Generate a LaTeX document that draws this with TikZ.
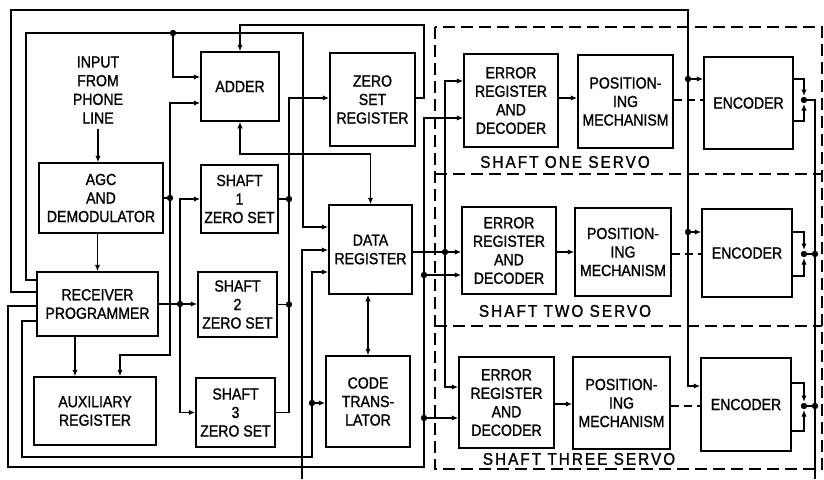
\documentclass[tikz,border=0pt]{standalone}
\usepackage{fontspec}
\setmainfont{Liberation Sans}
\newfontfamily\boxfont[FakeStretch=0.88,FakeBold=1.2]{Liberation Sans}
\newfontfamily\labfont[FakeStretch=0.9,LetterSpace=12,FakeBold=1.2]{Liberation Sans}
\usetikzlibrary{arrows.meta}
\newcommand\jdot[1]{\fill #1 circle (3.2pt);}
\begin{document}
\begin{tikzpicture}[x=1pt,y=-1pt,
  box/.style={draw, line width=1.5pt, align=center, font=\boxfont\fontsize{16}{18.5}\selectfont, inner sep=0pt},
  txt/.style={align=center, font=\boxfont\fontsize{16}{18.7}\selectfont, inner sep=0pt},
  wire/.style={line width=1.35pt},
  arr/.style={-{Latex[length=6.5pt,width=5.5pt]}},
  biarr/.style={{Latex[length=6.5pt,width=5.5pt]}-{Latex[length=6.5pt,width=5.5pt]}},
  mech/.style={line width=1.4pt, dash pattern=on 8pt off 5pt},
  frame/.style={line width=1.5pt, dash pattern=on 12pt off 6pt},
  lab/.style={font=\labfont\fontsize{17}{20}\selectfont, inner sep=0pt}]
\useasboundingbox (0,0) rectangle (824,479);

% ---------- boxes ----------
\node[box, minimum width=78pt, minimum height=69pt] (adder) at (240,86.5) {ADDER};
\node[box, minimum width=77pt, minimum height=68pt] (s1) at (239.5,199) {SHAFT\\1\\ZERO SET};
\node[box, minimum width=79pt, minimum height=65pt] (s2) at (237.5,304.5) {SHAFT\\2\\ZERO SET};
\node[box, minimum width=79pt, minimum height=69pt] (s3) at (235.5,412.5) {SHAFT\\3\\ZERO SET};
\node[box, minimum width=124pt, minimum height=70pt] (agc) at (101,198) {AGC\\AND\\DEMODULATOR};
\node[box, minimum width=121pt, minimum height=64pt] (rec) at (97.5,304) {RECEIVER\\PROGRAMMER};
\node[box, minimum width=122pt, minimum height=68pt] (aux) at (95,411) {AUXILIARY\\REGISTER};
\node[box, minimum width=85pt, minimum height=93pt] (zsr) at (372.5,99.5) {ZERO\\SET\\REGISTER};
\node[box, minimum width=83pt, minimum height=89pt] (dr) at (370.5,249.5) {DATA\\REGISTER};
\node[box, minimum width=84pt, minimum height=91pt] (ct) at (368,401.5) {CODE\\TRANS-\\LATOR};
\node[box, minimum width=94pt, minimum height=93pt] (e1) at (511,100.5) {ERROR\\REGISTER\\AND\\DECODER};
\node[box, minimum width=95pt, minimum height=93pt] (p1) at (625.5,101.5) {POSITION-\\ING\\MECHANISM};
\node[box, minimum width=89pt, minimum height=92pt] (n1) at (748.5,103) {ENCODER};
\node[box, minimum width=94pt, minimum height=87pt] (e2) at (509,250.5) {ERROR\\REGISTER\\AND\\DECODER};
\node[box, minimum width=96pt, minimum height=88pt] (p2) at (623,252) {POSITION-\\ING\\MECHANISM};
\node[box, minimum width=90pt, minimum height=88pt] (n2) at (747,253) {ENCODER};
\node[box, minimum width=95pt, minimum height=91pt] (e3) at (506.5,402.5) {ERROR\\REGISTER\\AND\\DECODER};
\node[box, minimum width=97pt, minimum height=92pt] (p3) at (621.5,403) {POSITION-\\ING\\MECHANISM};
\node[box, minimum width=90pt, minimum height=93pt] (n3) at (746,404.5) {ENCODER};

\node[txt] (inp) at (98,90) {INPUT\\FROM\\PHONE\\LINE};

% ---------- servo frames ----------
\draw[frame] (435,27) rectangle (822,469);
\draw[frame] (435,174) -- (822,174);
\draw[frame] (435,326) -- (822,326);
\node[lab] (l1) at (565,162) {SHAFT ONE SERVO};
\node[lab] (l2) at (565,311) {SHAFT TWO SERVO};
\node[lab] (l3) at (579,459) {SHAFT THREE SERVO};

% ---------- left column ----------
\draw[wire,arr] ([yshift=-5pt]inp.south) -- (inp.south |- agc.north);
\draw[wire,arr] (agc.south -| rec.north) -- (rec.north);
\draw[wire,arr] (rec.south -| 75,0) -- (aux.north -| 75,0);

% AGC output
\coordinate (ja) at (agc.east -| 170,0);
\draw[wire] (agc.east) -- (ja);
\draw[wire,arr] (ja) |- (adder.west |- 0,103);
\draw[wire,arr] (ja) |- (120,355) -- (aux.north -| 120,0);
\jdot{(ja)}

% receiver output to shaft zero sets
\coordinate (jr) at (rec.east -| 180,0);
\draw[wire,arr] (rec.east) -- (rec.east -| s2.west);
\draw[wire,arr] (jr) |- (s1.west);
\draw[wire,arr] (jr) |- (s3.west);
\jdot{(jr)}

% shaft zero set outputs to zero set register
\draw[wire,arr] (s3.east) -| (289,98) -- (zsr.west |- 0,98);
\draw[wire] (s1.east) -- (s1.east -| 289,0);
\draw[wire] (s2.east) -- (s2.east -| 289,0);
\jdot{(s1.east -| 289,0)}
\jdot{(s2.east -| 289,0)}

% zero set register to adder
\draw[wire,arr] (zsr.east |- 0,98) -- (424,98) |- (adder.north |- 0,25) -- (adder.north);

% adder <-> data register, data register <-> code translator
\draw[wire,biarr] (adder.south) |- (dr.north |- 0,154) -- (dr.north);
\draw[wire,biarr] (dr.south -| ct.north) -- (ct.north);

% receiver loops
\draw[wire,arr] (rec.west |- 0,280) -| (26,33) -- (303,33) -- (303,227) -- (dr.west |- 0,227);
\draw[wire,arr] (173,33) |- (adder.west |- 0,77);
\jdot{(173,33)}

\draw[wire,arr] (rec.west |- 0,292) -| (11,10) -- (688,10) |- (n3.west |- 0,386);
\draw[wire,arr] (688,79) -- (n1.west |- 0,79);
\draw[wire,arr] (688,232) -- (n2.west |- 0,232);
\jdot{(688,79)}
\jdot{(688,232)}

\draw[wire,arr] (rec.west |- 0,321) -| (22,457) -| (312,272) -- (dr.west |- 0,272);
\draw[wire,arr] (312,403) -- (ct.west |- 0,403);
\jdot{(312,403)}

\draw[wire,arr] (rec.west |- 0,306) -| (8,467) -| (424,118) -- (e1.west |- 0,118);
\draw[wire,arr] (424,275) -- (e2.west |- 0,275);
\draw[wire,arr] (424,418) -- (e3.west |- 0,418);
\jdot{(424,275)}
\jdot{(424,418)}

% data register to error registers
\draw[wire,arr] (dr.east |- 0,252) -- (e2.west |- 0,252);
\draw[wire,arr] (445,252) |- (e1.west |- 0,81);
\draw[wire,arr] (445,252) |- (e3.west |- 0,387);
\jdot{(445,252)}

% feedback into data register from below
\draw[wire,arr] (302,479) -- (302,250) -- (dr.west |- 0,250);

% error -> positioning, positioning - - encoder
\draw[wire,arr] (e1.east |- 0,98) -- (p1.west |- 0,98);
\draw[wire,arr] (e2.east |- 0,252) -- (p2.west |- 0,252);
\draw[wire,arr] (e3.east |- 0,404) -- (p3.west |- 0,404);
\draw[mech] (p1.east |- 0,100) -- (n1.west |- 0,100);
\draw[mech] (p2.east |- 0,254) -- (n2.west |- 0,254);
\draw[mech] (p3.east |- 0,406) -- (n3.west |- 0,406);

% encoder outputs
\draw[wire,arr] (n1.east |- 0,79) -| (804,96);
\draw[wire,arr] (n1.east |- 0,121) -| (804,104);
\draw[wire,arr] (n2.east |- 0,232) -| (804,250);
\draw[wire,arr] (n2.east |- 0,276) -| (804,258);
\draw[wire,arr] (n3.east |- 0,383) -| (804,402);
\draw[wire,arr] (n3.east |- 0,431) -| (804,410);
\jdot{(804,100)}
\jdot{(804,254)}
\jdot{(804,406)}
\draw[wire] (804,100) -- (815,100) -- (815,479);
\draw[wire] (804,254) -- (815,254);
\draw[wire] (804,406) -- (815,406);
\jdot{(815,254)}
\jdot{(815,406)}
\end{tikzpicture}
\end{document}
